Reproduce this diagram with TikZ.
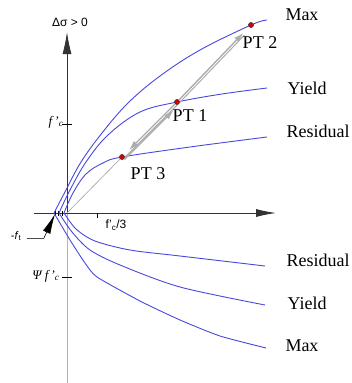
\documentclass[tikz,border=0pt]{standalone}
\usepackage{fontspec}
\setmainfont{Liberation Serif}
\setsansfont{Liberation Sans}
\usetikzlibrary{arrows.meta,calc}
\definecolor{curveblue}{RGB}{72,72,222}

\begin{document}
\begin{tikzpicture}[x=1pt,y=-1pt,
  curve/.style={draw=curveblue,line width=0.9pt},
  lbl/.style={font=\fontsize{18}{18}\selectfont,inner sep=0pt},
  small/.style={font=\sffamily\fontsize{12}{12}\selectfont,inner sep=0pt},
  ptdot/.style={circle,fill=red!85!black,draw=black!75,line width=0.4pt,inner sep=0pt,minimum size=5pt},
  garrow/.style={draw=gray!65,line width=1.4pt,-{Latex[length=10pt,width=6pt]}},
  axis/.style={draw=black!80,line width=0.9pt}]
\useasboundingbox (0,0) rectangle (352,383);

% axes
\coordinate (o) at (67,213);
\coordinate (xl) at (34,213);
\coordinate (xr) at (276,213);
\coordinate (yb) at (67,383);
\coordinate (yt) at (67,32);
\draw[draw=gray!60,line width=1pt] (yb) -- (o);
\draw[axis,-{Latex[length=22pt,width=9pt]}] (o) -- (yt);
\draw[axis,-{Latex[length=20pt,width=8pt]}] (xl) -- (xr);

% ticks
\draw[black,line width=0.8pt] (62,124) -- (72,124);
\draw[black,line width=0.8pt] (62,277) -- (72,277);
\draw[black,line width=0.6pt] (97,213) -- (97,218);
\foreach \tx in {55,58.5,62}
  \draw[black,line width=0.9pt] (\tx,211) -- (\tx,216);

% envelopes
\draw[curve] plot[smooth,tension=0.6] coordinates {(54,213) (66,190) (81,162) (102,133) (128,103) (160,76) (200,50) (251,25) (267,20)};
\draw[curve] plot[smooth,tension=0.6] coordinates {(59,213) (70,190) (86,162) (108,135) (140,112) (177,102) (222,94) (267,88)};
\draw[curve] plot[smooth,tension=0.6] coordinates {(64,213) (73,193) (86,174) (103,163) (122,157) (190,147) (267,137)};
\draw[curve] plot[smooth,tension=0.5] coordinates {(64,213) (76,229) (95,241) (130,250) (180,256) (265,266)};
\draw[curve] plot[smooth,tension=0.5] coordinates {(59,213) (72,232) (90,250) (120,265) (180,287) (265,305)};
\draw[curve] plot[smooth,tension=0.35] coordinates {(54,213) (70,240) (85,263) (97,277) (140,301) (180,320) (220,336) (266,348)};

% load path
\node[ptdot] (pt1) at (177,102) {};
\node[ptdot] (pt2) at (251,25) {};
\node[ptdot] (pt3) at (122,157) {};
\draw[draw=gray!60,line width=0.8pt] (o) -- (pt3);
\draw[draw=gray!65,line width=1pt] ($(pt3)+(1.6,1.6)$) -- ($(pt1)+(1.6,1.6)$);
\draw[draw=gray!65,line width=1pt,shorten >=12pt] ($(pt1)+(1.6,1.6)$) -- ($(pt2)+(1.6,1.6)$);
\draw[garrow,shorten >=8pt] (pt1) -- (pt2);
\draw[garrow,shorten >=7pt] (pt1) -- (pt3);
\draw[garrow,shorten >=8pt] ($(pt3)+(2.4,2.4)$) -- ($(pt1)+(2.4,2.4)$);
\node[ptdot] at (pt1) {};
\node[ptdot] at (pt2) {};
\node[ptdot] at (pt3) {};

% labels
\node[lbl] (maxu) at (302,15) {Max};
\node[lbl] (yieldu) at (307,88) {Yield};
\node[lbl] (resu) at (318,131) {Residual};
\node[lbl] (resl) at (318,260) {Residual};
\node[lbl] (yieldl) at (307,303) {Yield};
\node[lbl] (maxl) at (302,346) {Max};
\node[lbl] (lpt2) at (260,43) {PT 2};
\node[lbl] (lpt1) at (190,116) {PT 1};
\node[lbl] (lpt3) at (148,174) {PT 3};

\node[small] (dsig) at (70,22) {Δσ > 0};
\node[small] (fc3) at (116,225) {f'\textsubscript{c}/3};
\node[font=\fontsize{13}{13}\selectfont\itshape,inner sep=0pt] (fc) at (56,122) {f\,'\textsubscript{c}};
\node[font=\fontsize{13}{13}\selectfont\itshape,inner sep=0pt] (psifc) at (46,276) {Ψ f\,'\textsubscript{c}};
\node[small,font=\sffamily\fontsize{11}{11}\selectfont] (ft) at (16,236) {-\textit{f}\textsubscript{t}};
\coordinate (ftk) at (44,238);
\draw[black!70,line width=0.6pt] ([xshift=6pt]ft.east |- ftk) -- (ftk);
\draw[black,line width=0.6pt,-{Latex[length=20pt,width=8pt]}] (ftk) -- (55,214);
\end{tikzpicture}
\end{document}
